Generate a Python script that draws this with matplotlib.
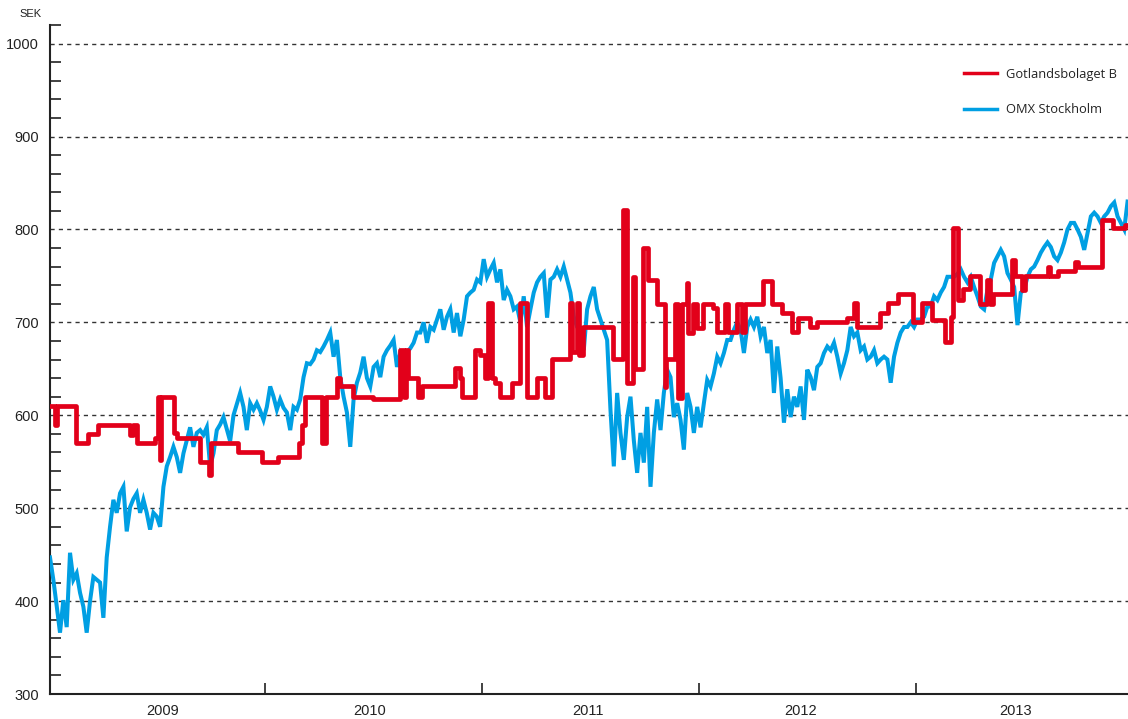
import matplotlib
matplotlib.use("Agg")
import matplotlib.pyplot as plt
import matplotlib.dates as mdates
from matplotlib.ticker import MultipleLocator, FixedLocator, NullFormatter, FixedFormatter
import numpy as np
import pandas as pd

plt.rcParams['font.family'] = ['Liberation Sans', 'DejaVu Sans']

# ---------------- data ----------------
series_names = ["Gotlandsbolaget B", "OMX Stockholm"]
year_labels = ["2009", "2010", "2011", "2012", "2013"]
y_ticks = [300, 400, 500, 600, 700, 800, 900, 1000]

# OMX Stockholm, evenly sampled from 2009.009 to 2013.975 (decimal years)
omx_start, omx_end = 2009.009, 2013.975
omx_values = [
    447, 423, 395, 366, 401, 372, 452, 423, 430, 409, 394, 366, 400, 426, 423, 420,
    382, 447, 480, 509, 495, 516, 523, 475, 501, 510, 516, 495, 509, 495, 477, 495,
    491, 480, 523, 545, 555, 566, 555, 538, 559, 573, 587, 566, 581, 584, 579, 587,
    545, 559, 584, 590, 598, 585, 572, 600, 612, 624, 609, 584, 613, 606, 613, 605,
    595, 609, 631, 620, 606, 617, 608, 603, 584, 609, 606, 617, 641, 656, 655, 660,
    670, 668, 674, 681, 689, 663, 681, 641, 620, 603, 566, 617, 635, 646, 663, 640,
    631, 652, 656, 641, 663, 670, 675, 681, 652, 667, 660, 668, 672, 678, 689, 689,
    700, 678, 695, 692, 703, 714, 692, 706, 714, 689, 710, 685, 703, 728, 732, 735,
    746, 743, 768, 749, 757, 764, 743, 757, 724, 735, 728, 714, 717, 700, 728, 695,
    714, 732, 743, 749, 753, 705, 746, 749, 757, 749, 760, 746, 732, 706, 695, 692,
    670, 714, 728, 738, 714, 703, 692, 681, 606, 545, 624, 581, 552, 598, 620, 573,
    538, 581, 549, 609, 523, 581, 617, 584, 624, 649, 641, 598, 613, 595, 563, 624,
    609, 581, 609, 587, 613, 638, 631, 645, 663, 656, 667, 681, 681, 692, 700, 692,
    667, 695, 703, 695, 706, 685, 695, 667, 681, 624, 674, 640, 592, 628, 598, 620,
    609, 631, 595, 649, 641, 627, 652, 656, 667, 674, 670, 678, 663, 645, 656, 670,
    695, 685, 689, 670, 674, 660, 663, 670, 656, 660, 663, 660, 635, 663, 678, 689,
    695, 695, 700, 695, 703, 703, 706, 717, 717, 728, 724, 732, 738, 749, 749, 749,
    752, 757, 749, 743, 749, 738, 728, 717, 714, 735, 746, 764, 771, 778, 771, 753,
    746, 738, 697, 732, 735, 749, 757, 760, 767, 775, 781, 786, 781, 771, 767, 775,
    786, 800, 807, 807, 800, 792, 778, 796, 814, 818, 814, 807, 814, 818, 825, 829,
    814, 807, 800, 830,
]

# Gotlandsbolaget B: price changes (decimal year, SEK)
gotl_times = [
    2009.009, 2009.032, 2009.041, 2009.129, 2009.184, 2009.230, 2009.378, 2009.392,
    2009.410, 2009.493, 2009.507, 2009.516, 2009.521, 2009.581, 2009.594, 2009.700,
    2009.742, 2009.751, 2009.876, 2009.986, 2010.060, 2010.157, 2010.171, 2010.184,
    2010.263, 2010.281, 2010.332, 2010.346, 2010.406, 2010.498, 2010.622, 2010.641,
    2010.650, 2010.659, 2010.705, 2010.724, 2010.876, 2010.899, 2010.908, 2010.968,
    2010.991, 2011.014, 2011.028, 2011.046, 2011.060, 2011.083, 2011.138, 2011.175,
    2011.207, 2011.253, 2011.290, 2011.323, 2011.406, 2011.415, 2011.438, 2011.447,
    2011.465, 2011.604, 2011.650, 2011.668, 2011.696, 2011.705, 2011.742, 2011.765,
    2011.806, 2011.843, 2011.848, 2011.889, 2011.903, 2011.922, 2011.945, 2011.949,
    2011.972, 2011.991, 2012.018, 2012.065, 2012.083, 2012.120, 2012.134, 2012.175,
    2012.198, 2012.212, 2012.295, 2012.336, 2012.382, 2012.429, 2012.456, 2012.512,
    2012.544, 2012.682, 2012.714, 2012.728, 2012.834, 2012.871, 2012.917, 2012.986,
    2013.028, 2013.074, 2013.134, 2013.161, 2013.171, 2013.194, 2013.217, 2013.249,
    2013.295, 2013.327, 2013.341, 2013.355, 2013.442, 2013.456, 2013.488, 2013.502,
    2013.608, 2013.618, 2013.654, 2013.733, 2013.747, 2013.857, 2013.908, 2013.963,
    2013.977,
]
gotl_values = [
    610, 590, 610, 570, 580, 590, 579, 590,
    570, 575, 620, 552, 620, 581, 575, 550,
    536, 570, 560, 550, 555, 570, 590, 620,
    570, 620, 640, 631, 620, 617, 670, 620,
    670, 640, 620, 631, 651, 640, 620, 670,
    665, 640, 721, 640, 635, 620, 635, 721,
    620, 640, 620, 661, 721, 668, 721, 665,
    695, 661, 821, 635, 749, 650, 780, 746,
    720, 630, 661, 720, 619, 720, 742, 689,
    720, 694, 720, 715, 690, 720, 690, 720,
    690, 720, 745, 720, 710, 690, 705, 695,
    700, 705, 721, 695, 710, 721, 730, 700,
    721, 702, 679, 706, 801, 724, 736, 750,
    720, 746, 720, 731, 767, 750, 735, 750,
    760, 750, 755, 765, 760, 810, 801, 805,
    805,
]


def decyear_to_dt(values):
    values = np.asarray(values, dtype=float)
    base = pd.Timestamp("2009-01-01")
    return [base + pd.Timedelta(days=float((v - 2009.0) * 365.25)) for v in values]


omx_dates = decyear_to_dt(np.linspace(omx_start, omx_end, len(omx_values)))
gotl_dates = decyear_to_dt(gotl_times)

RED = "#E2001A"
BLUE = "#009FE3"
INK = "#222222"

fig = plt.figure(figsize=(11.28, 7.19), dpi=100)
ax = fig.add_axes([50 / 1128, 25 / 719, 1078 / 1128, 669 / 719])

l_omx, = ax.plot(omx_dates, omx_values, color=BLUE, lw=2.9, solid_joinstyle="miter",
                 label=series_names[1], zorder=3)
l_gotl, = ax.plot(gotl_dates, gotl_values, color=RED, lw=3.4, drawstyle="steps-post",
                  label=series_names[0], zorder=4)

# axes limits
ax.set_ylim(300, 1020)
ax.set_xlim(decyear_to_dt([2009.009, 2013.977]))

# y axis
ax.yaxis.set_major_locator(FixedLocator(y_ticks))
ax.yaxis.set_minor_locator(MultipleLocator(20))
ax.tick_params(axis="y", which="major", length=0, labelsize=10.5, pad=8, colors=INK)
ax.tick_params(axis="y", which="minor", direction="in", length=8, width=1.2, color=INK)
for v in y_ticks[1:]:
    ax.axhline(v, color="#333333", lw=1.0, ls=(0, (3, 3)), zorder=1)

# x axis: year boundaries as ticks, labels in the year intervals
boundaries = [pd.Timestamp(f"{y}-01-01") for y in range(2010, 2014)]
label_pos = decyear_to_dt([2009.53, 2010.48, 2011.49, 2012.47, 2013.46])
ax.xaxis.set_major_locator(FixedLocator(mdates.date2num(boundaries)))
ax.xaxis.set_major_formatter(NullFormatter())
ax.xaxis.set_minor_locator(FixedLocator(mdates.date2num(label_pos)))
ax.xaxis.set_minor_formatter(FixedFormatter(year_labels))
ax.tick_params(axis="x", which="major", direction="in", length=8, width=1.2, color=INK)
ax.tick_params(axis="x", which="minor", length=0, labelsize=10.5, pad=7, colors=INK)

for s in ["top", "right"]:
    ax.spines[s].set_visible(False)
for s in ["left", "bottom"]:
    ax.spines[s].set_linewidth(1.5)
    ax.spines[s].set_color(INK)

fig.text(31 / 1128, 1 - 14 / 719, "SEK", ha="center", va="center", fontsize=8,
         color=INK, family=["Liberation Sans Narrow", "Liberation Sans", "DejaVu Sans"])

leg = ax.legend(handles=[l_gotl, l_omx], loc="upper left",
                bbox_to_anchor=((960 - 50) / 1078, 1 - (64 - 25) / 669),
                bbox_transform=ax.transAxes, frameon=False,
                prop={"family": ["Open Sans", "DejaVu Sans"], "size": 9.3},
                handlelength=2.55, handletextpad=0.7, labelspacing=1.73,
                borderaxespad=0, borderpad=0.3)
for line in leg.get_lines():
    line.set_linewidth(2.5)
for t in leg.get_texts():
    t.set_color(INK)

fig.savefig("out.png", dpi=100)
